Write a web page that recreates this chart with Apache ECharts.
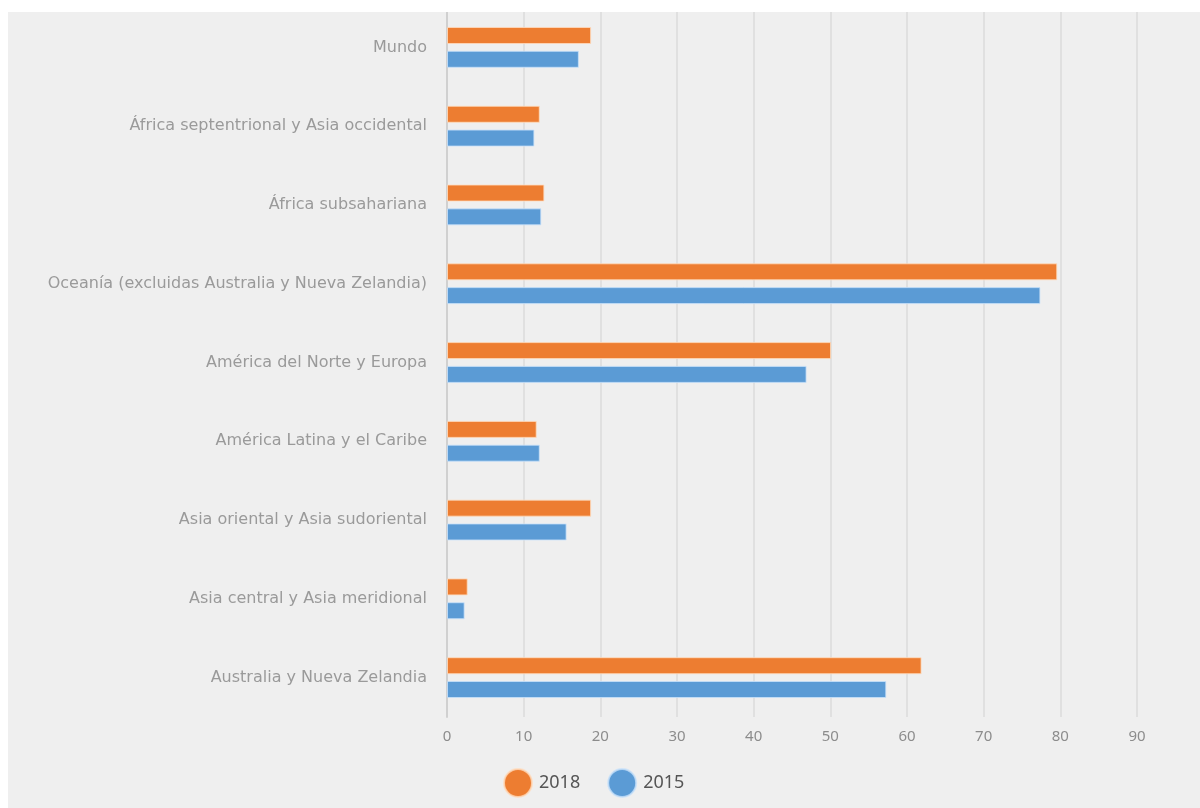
<!DOCTYPE html>
<html>
<head>
<meta charset="utf-8">
<script src="https://cdn.jsdelivr.net/npm/echarts@6/dist/echarts.min.js"></script>
<style>
html,body{margin:0;padding:0;background:#ffffff;}
#c{width:1200px;height:808px;}
</style>
</head>
<body>
<div id="c"></div>
<script>
const categories = [
  "Mundo",
  "África septentrional y Asia occidental",
  "África subsahariana",
  "Oceanía (excluidas Australia y Nueva Zelandia)",
  "América del Norte y Europa",
  "América Latina y el Caribe",
  "Asia oriental y Asia sudoriental",
  "Asia central y Asia meridional",
  "Australia y Nueva Zelandia"
];
const values2018 = [18.8, 12.1, 12.7, 79.6, 50.1, 11.7, 18.8, 2.7, 61.9];
const values2015 = [17.2, 11.4, 12.3, 77.4, 46.9, 12.1, 15.6, 2.3, 57.3];
const seriesNames = ["2018", "2015"];
const xTicks = { min: 0, max: 90, interval: 10 };

const chart = echarts.init(document.getElementById('c'));
const font = "'DejaVu Sans', 'Noto Sans', sans-serif";
const font2 = "'Noto Sans', Lato, sans-serif";
chart.setOption({
  animation: false,
  backgroundColor: '#ffffff',
  graphic: [{
    type: 'rect', z: -10, silent: true,
    shape: { x: 8, y: 12, width: 1192, height: 796 },
    style: { fill: '#efefef' }
  }, {
    type: 'rect', z: 100, silent: true,
    shape: { x: 0, y: 0, width: 1200, height: 12 },
    style: { fill: '#ffffff' }
  }],
  grid: { left: 447, right: 63, top: 8, height: 709, containLabel: false },
  legend: {
    data: seriesNames,
    bottom: 5,
    left: 498,
    itemWidth: 32, itemHeight: 28,
    itemGap: 27,
    icon: 'circle',
    textStyle: { color: '#555555', fontSize: 18, fontFamily: font2 }
  },
  xAxis: {
    type: 'value',
    min: xTicks.min, max: xTicks.max, interval: xTicks.interval,
    axisLine: { show: false },
    axisTick: { show: false },
    splitLine: { show: true, lineStyle: { color: '#e0e0e0', width: 2 } },
    axisLabel: { color: '#8c8c8c', fontSize: 15, fontFamily: font2, margin: 12 }
  },
  yAxis: {
    type: 'category',
    data: categories,
    inverse: true,
    axisLine: { show: true, lineStyle: { color: '#d0d0d0', width: 2 } },
    axisTick: { show: false },
    axisLabel: { color: '#9a9a9a', fontSize: 16, fontFamily: font, margin: 20 }
  },
  series: [
    {
      name: seriesNames[0], type: 'bar', data: values2018,
      barWidth: 17, barGap: '40%',
      itemStyle: { color: '#ED7D31', borderColor: 'rgba(255,220,190,0.8)', borderWidth: 1 }
    },
    {
      name: seriesNames[1], type: 'bar', data: values2015,
      barWidth: 17, barGap: '40%',
      itemStyle: { color: '#5B9BD5', borderColor: 'rgba(200,225,250,0.8)', borderWidth: 1 }
    }
  ]
});
</script>
</body>
</html>
